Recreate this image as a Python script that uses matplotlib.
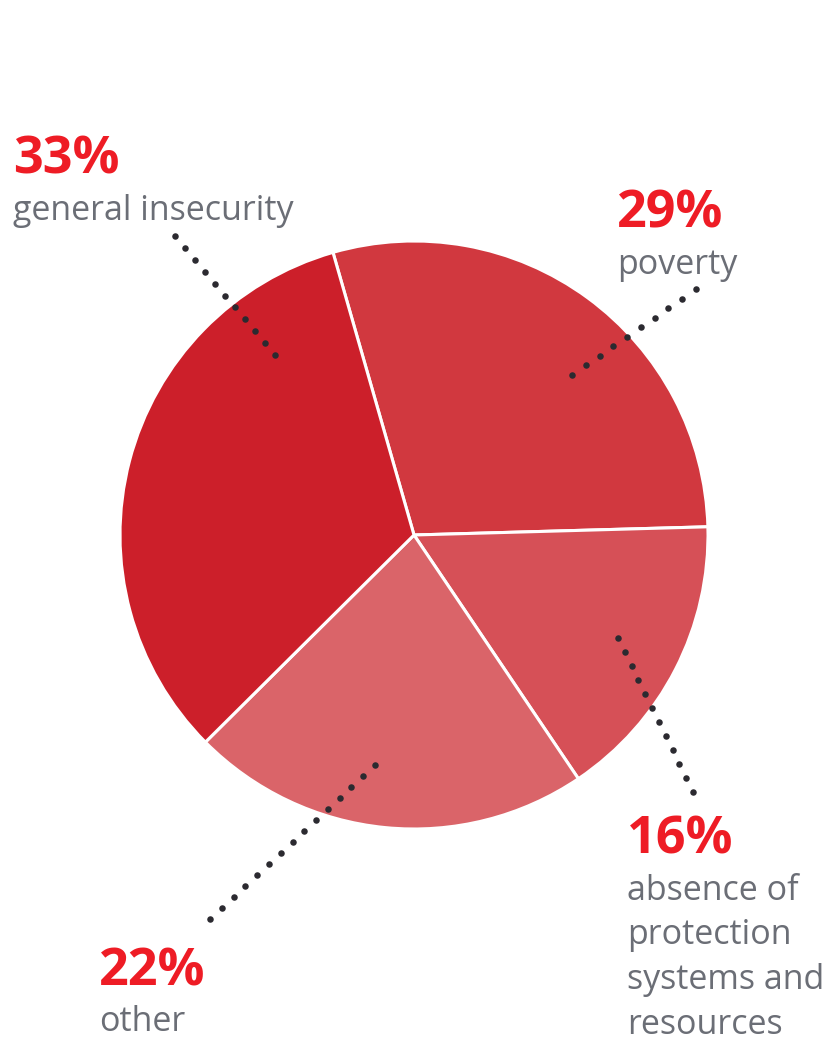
import numpy as np
import matplotlib
matplotlib.use('Agg')
import matplotlib.pyplot as plt

plt.rcParams['font.family'] = ['Open Sans', 'DejaVu Sans']

# ----- Data (clockwise from the top) -----
labels = ['poverty', 'absence of\nprotection\nsystems and\nresources', 'other',
          'general insecurity']
shares = [29, 16, 22, 33]
colors = ['#D1383F', '#D65057', '#DA6469', '#CC1F2A']

# ----- Layout (pixel space, y up) -----
W, H = 831, 1040
CENTER = (414, H - 535)
RADIUS = 294
START_ANGLE = 106
LINE_PITCH = 44.5

# label anchor (x, baseline of percent in image px) and leader ends (outer, inner)
label_pos = [(617, 228), (627, 854), (99, 985), (13, 174)]
leaders = [((696, 289), (572, 375), 10),
           ((618, 638), (693, 792), 12),
           ((375, 765), (210, 919), 15),
           ((175, 236), (275, 355), 11)]

PCT_RED = '#EE1C25'
TEXT_GREY = '#6B6E76'
DOT = '#2B2A30'

fig = plt.figure(figsize=(W / 100, H / 100), dpi=100)
ax = fig.add_axes([0, 0, 1, 1])

ax.pie(shares, colors=colors, startangle=START_ANGLE, counterclock=False,
       center=CENTER, radius=RADIUS, frame=True,
       wedgeprops=dict(edgecolor='white', linewidth=2.2))
ax.set_xlim(0, W)
ax.set_ylim(0, H)
ax.set_aspect('equal')
ax.axis('off')

# dotted leader lines
for (p0, p1, n) in leaders:
    xs = np.linspace(p0[0], p1[0], n)
    ys = H - np.linspace(p0[1], p1[1], n)
    ax.scatter(xs, ys, s=22, color=DOT, zorder=5, linewidths=0)

# percent + label text
for share, lab, (x, y) in zip(shares, labels, label_pos):
    ax.text(x, H - y, f'{share}%', fontsize=37.5, fontweight='bold',
            color=PCT_RED, ha='left', va='baseline')
    for i, line in enumerate(lab.split('\n')):
        ax.text(x, H - y - 46 - LINE_PITCH * i, line, fontsize=24.5,
                color=TEXT_GREY, ha='left', va='baseline')

fig.savefig('out.png', dpi=100)
